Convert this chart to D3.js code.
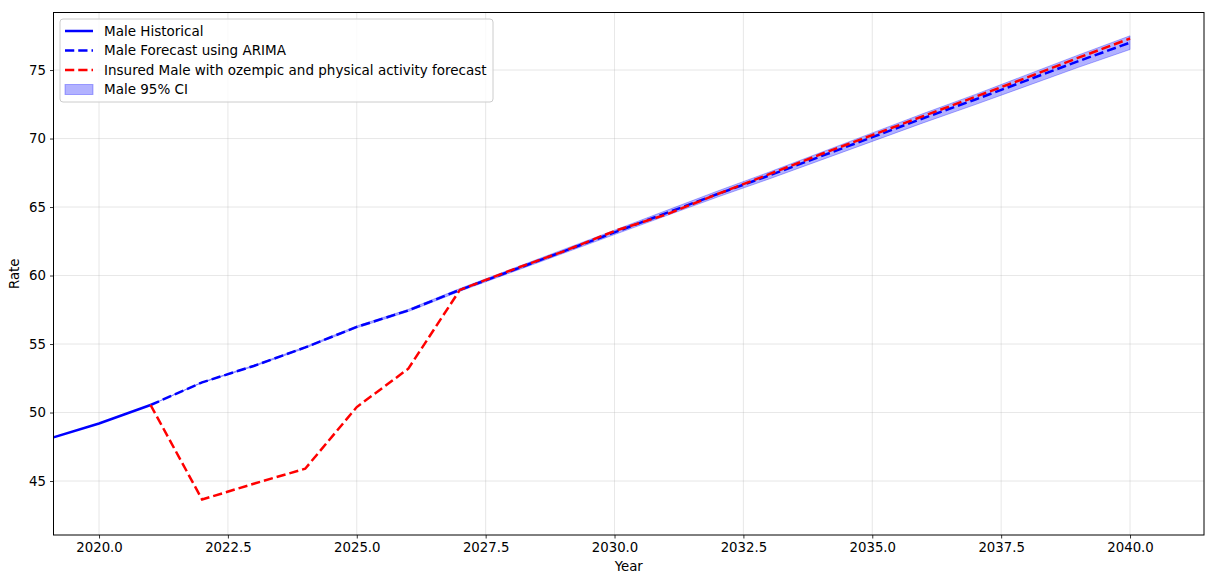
<!DOCTYPE html>
<html>
<head>
<meta charset="utf-8">
<script src="https://cdn.jsdelivr.net/npm/d3@7"></script>
<style>
body { margin: 0; background: #fff; }
text { font-family: "DejaVu Sans", sans-serif; fill: #000; }
</style>
</head>
<body>
<div id="chart"></div>
<script>
// data
var histYears = [2019, 2020, 2021];
var histRate = [48.05, 49.2, 50.55];

var fcYears = [2021, 2022, 2023, 2024, 2025, 2026, 2027, 2028, 2029, 2030, 2031,
  2032, 2033, 2034, 2035, 2036, 2037, 2038, 2039, 2040];
var fcRate = [50.55, 52.2, 53.4, 54.75, 56.25, 57.45, 58.95, 60.35, 61.75, 63.15, 64.55,
  65.95, 67.3, 68.7, 70.1, 71.5, 72.85, 74.25, 75.65, 77.0];
var ciLower = [50.55, 52.18, 53.36, 54.7, 56.18, 57.37, 58.85, 60.23, 61.61, 62.99, 64.36,
  65.73, 67.05, 68.42, 69.79, 71.16, 72.48, 73.84, 75.2, 76.5];
var ciUpper = [50.55, 52.22, 53.44, 54.8, 56.32, 57.53, 59.05, 60.47, 61.89, 63.31, 64.74,
  66.17, 67.55, 68.98, 70.41, 71.84, 73.22, 74.66, 76.1, 77.5];

var insYears = [2021, 2022, 2023, 2024, 2025, 2026, 2027, 2028, 2029, 2030, 2031,
  2032, 2033, 2034, 2035, 2036, 2037, 2038, 2039, 2040];
var insRate = [50.55, 43.65, 44.8, 45.9, 50.4, 53.2, 58.95, 60.4, 61.75, 63.25, 64.45,
  65.95, 67.4, 68.85, 70.25, 71.65, 73.05, 74.45, 75.9, 77.3];

var xTicks = [2020, 2022.5, 2025, 2027.5, 2030, 2032.5, 2035, 2037.5, 2040];
var yTicks = [45, 50, 55, 60, 65, 70, 75];

var legendLabels = ['Male Historical', 'Male Forecast using ARIMA',
  'Insured Male with ozempic and physical activity forecast', 'Male 95% CI'];

var W = 1205, H = 574;
var mLeft = 53.5, mRight = 1204, mTop = 12.5, mBottom = 535;

var svg = d3.select('#chart').append('svg')
  .attr('width', W).attr('height', H);

var x = d3.scaleLinear().domain([2019.117, 2041.435]).range([mLeft, mRight]);
var y = d3.scaleLinear().domain([41.06, 79.2]).range([mBottom, mTop]);

svg.append('clipPath').attr('id', 'clip')
  .append('rect').attr('x', mLeft).attr('y', mTop)
  .attr('width', mRight - mLeft).attr('height', mBottom - mTop);

// grid
var grid = svg.append('g');
xTicks.forEach(function(t) {
  grid.append('line')
    .attr('x1', x(t)).attr('x2', x(t)).attr('y1', mTop).attr('y2', mBottom)
    .style('stroke', '#b0b0b0').style('stroke-opacity', 0.3).style('stroke-width', '1px');
});
yTicks.forEach(function(t) {
  grid.append('line')
    .attr('x1', mLeft).attr('x2', mRight).attr('y1', y(t)).attr('y2', y(t))
    .style('stroke', '#b0b0b0').style('stroke-opacity', 0.3).style('stroke-width', '1px');
});

var plot = svg.append('g').attr('clip-path', 'url(#clip)');

// CI band
var band = d3.area()
  .x(function(d) { return x(d.year); })
  .y0(function(d) { return y(d.lo); })
  .y1(function(d) { return y(d.hi); });
plot.append('path')
  .datum(fcYears.map(function(yr, i) { return { year: yr, lo: ciLower[i], hi: ciUpper[i] }; }))
  .attr('d', band)
  .style('fill', '#0000ff').style('fill-opacity', 0.3).style('stroke', '#0000ff').style('stroke-opacity', 0.3);

var line = d3.line()
  .x(function(d) { return x(d[0]); })
  .y(function(d) { return y(d[1]); });

function pairs(xs, ys) { return xs.map(function(v, i) { return [v, ys[i]]; }); }

var lw = 2.5, dash = '9.25,4';

plot.append('path')
  .datum(pairs(histYears, histRate))
  .attr('d', line)
  .style('fill', 'none').style('stroke', '#0000ff').style('stroke-width', lw);

plot.append('path')
  .datum(pairs(fcYears, fcRate))
  .attr('d', line)
  .style('fill', 'none').style('stroke', '#0000ff').style('stroke-width', lw)
  .style('stroke-dasharray', dash);

plot.append('path')
  .datum(pairs(insYears, insRate))
  .attr('d', line)
  .style('fill', 'none').style('stroke', '#ff0000').style('stroke-width', lw)
  .style('stroke-dasharray', dash);

// axes
var xAxis = svg.append('g')
  .attr('transform', 'translate(0,' + mBottom + ')')
  .call(d3.axisBottom(x).tickValues(xTicks).tickFormat(d3.format('.1f')).tickSizeOuter(0).tickSize(3.5).tickPadding(4));
var yAxis = svg.append('g')
  .attr('transform', 'translate(' + mLeft + ',0)')
  .call(d3.axisLeft(y).tickValues(yTicks).tickSizeOuter(0).tickSize(3.5).tickPadding(4));
[xAxis, yAxis].forEach(function(a) {
  a.select('.domain').remove();
  a.selectAll('.tick line').style('stroke', '#000').style('stroke-width', 0.8);
  a.selectAll('text').style('font-size', '13.3px').style('font-family', 'DejaVu Sans').style('fill', '#000');
});

// frame
svg.append('rect')
  .attr('x', mLeft).attr('y', mTop).attr('width', mRight - mLeft).attr('height', mBottom - mTop)
  .style('fill', 'none').style('stroke', '#000').style('stroke-width', 1);

svg.append('text')
  .attr('x', (mLeft + mRight) / 2).attr('y', 571)
  .attr('text-anchor', 'middle').style('font-size', '13.3px')
  .text('Year');
svg.append('text')
  .attr('transform', 'translate(19,' + ((mTop + mBottom) / 2) + ') rotate(-90)')
  .attr('text-anchor', 'middle').style('font-size', '13.3px')
  .text('Rate');

// legend
var lg = svg.append('g').attr('transform', 'translate(60,19)');
lg.append('rect')
  .attr('width', 433).attr('height', 83).attr('rx', 3)
  .style('fill', '#fff').style('fill-opacity', 0.8).style('stroke', '#cccccc').style('stroke-width', 1);

var styles = [
  { color: '#0000ff', dash: null },
  { color: '#0000ff', dash: dash },
  { color: '#ff0000', dash: dash },
  { patch: true }
];
legendLabels.forEach(function(label, i) {
  var cy = 12 + i * 19.5;
  if (styles[i].patch) {
    lg.append('rect')
      .attr('x', 5).attr('y', cy - 5).attr('width', 28).attr('height', 10)
      .style('fill', '#0000ff').style('fill-opacity', 0.3).style('stroke', '#0000ff').style('stroke-opacity', 0.3);
  } else {
    lg.append('line')
      .attr('x1', 5).attr('x2', 33).attr('y1', cy).attr('y2', cy)
      .style('stroke', styles[i].color).style('stroke-width', lw)
      .style('stroke-dasharray', styles[i].dash);
  }
  lg.append('text')
    .attr('x', 44).attr('y', cy).attr('dy', '0.35em')
    .style('font-size', '13.5px')
    .text(label);
});
</script>
</body>
</html>
